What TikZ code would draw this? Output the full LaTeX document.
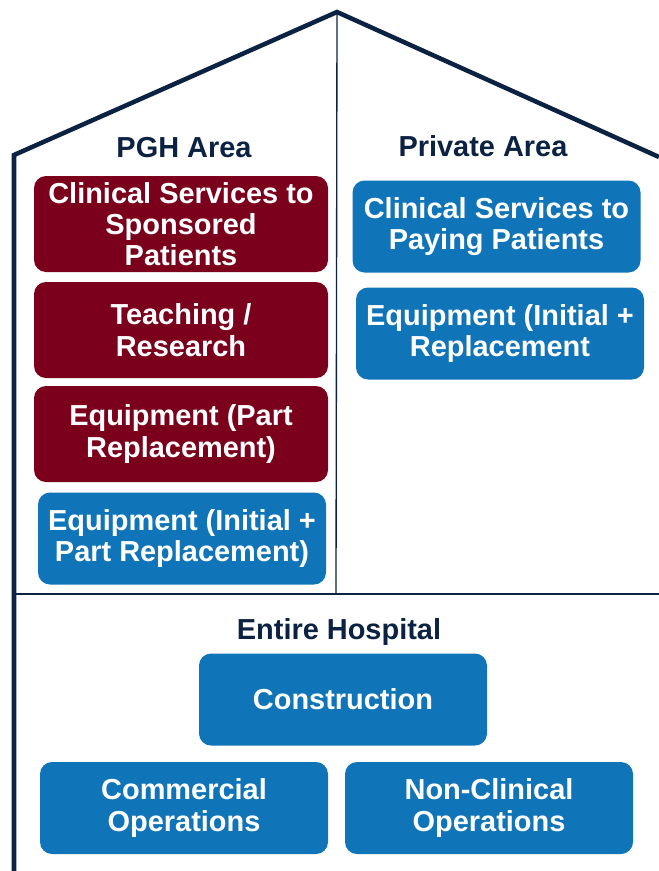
\documentclass[tikz,border=0pt]{standalone}
\usepackage{fontspec}
\setmainfont{Liberation Sans}
\definecolor{navy}{RGB}{12,34,66}
\definecolor{pghred}{RGB}{123,0,28}
\definecolor{boxblue}{RGB}{16,116,184}

\begin{document}
\begin{tikzpicture}[x=0.75pt,y=-0.75pt,line join=miter,
  box/.style={rectangle,rounded corners=9pt,inner sep=0pt,align=center,text=white,minimum width=216pt,minimum height=69pt,font=\bfseries\fontsize{21.7pt}{23.5pt}\selectfont},
  red box/.style={box,fill=pghred,minimum width=220.5pt,minimum height=72pt},
  blue box/.style={box,fill=boxblue},
  area/.style={text=navy,font=\bfseries\fontsize{21.7pt}{23.5pt}\selectfont}]
  \useasboundingbox (0,0) rectangle (659,871);

  % house outline
  \coordinate (base) at (14,871);
  \coordinate (eaveL) at (14,155);
  \coordinate (apex) at (337,12);
  \coordinate (eaveR) at (659,157);
  \coordinate (midL) at (14,594);
  \coordinate (midR) at (659,594);
  \coordinate (midC) at (336,594);
  \draw[navy,line width=1.5pt] (midL) -- (midR);
  \draw[navy,line width=1pt] (apex) -- (midC);
  \draw[navy,line width=3.4pt] (base) -- (eaveL) -- (apex) -- (eaveR);

  % titles
  \node[area] (pgh) at (184,148) {PGH Area};
  \node[area] (priv) at (483,146) {Private Area};
  \node[area] (all) at (339,632) {Entire Hospital};

  % PGH area
  \node[red box] (p1) at (181,224) {Clinical Services to\\Sponsored\\Patients};
  \node[red box] (p2) at (181,330) {Teaching /\\Research};
  \node[red box] (p3) at (181,434) {Equipment (Part\\Replacement)};
  \node[blue box] (p4) at (182,538.5) {Equipment (Initial +\\Part Replacement)};

  % private area
  \node[blue box] (q1) at (496.5,226.5) {Clinical Services to\\Paying Patients};
  \node[blue box] (q2) at (500,333.5) {Equipment (Initial +\\Replacement};

  % entire hospital
  \node[blue box] (h1) at (343,699.5) {Construction};
  \node[blue box] (h2) at (184,808) {Commercial\\Operations};
  \node[blue box] (h3) at (489,808) {Non-Clinical\\Operations};
\end{tikzpicture}
\end{document}
